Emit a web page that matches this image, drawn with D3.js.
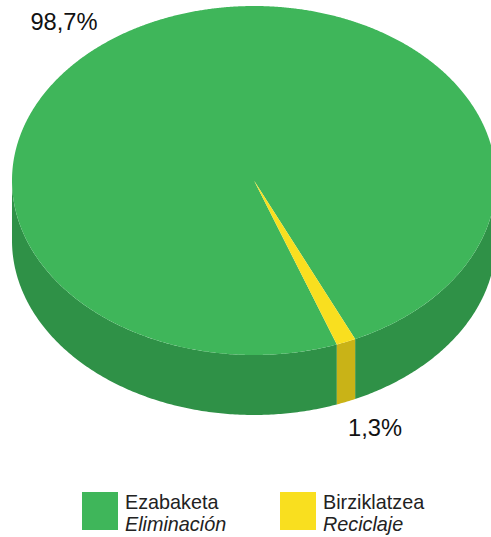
<!DOCTYPE html>
<html><head><meta charset="utf-8">
<style>html,body{margin:0;padding:0;background:#fff}svg{display:block}text{font-family:"Liberation Sans",Arial,sans-serif}</style>
<script src="https://cdn.jsdelivr.net/npm/d3@7"></script></head>
<body><svg id="c" width="491" height="537"></svg>
<script>
const categories = ["Ezabaketa","Birziklatzea"];
const subLabels = ["Eliminación","Reciclaje"];
const values = [98.7,1.3];
const valueLabels = ["98,7%","1,3%"];
const topColors = ["#3FB65A","#F9DF1F"];
const sideColors = ["#2F9147","#C9B317"];
const cx=254,cy=180.5,rx=242,ry=174.5,depth=60;
const svg=d3.select("#c");
const yellowStart=155.3*Math.PI/180;
const greenStart=yellowStart+values[1]/100*2*Math.PI;
const arcs=d3.pie().sort(null).startAngle(greenStart).endAngle(greenStart+2*Math.PI)(values);
const X=d3.scaleLinear().domain([-1,1]).range([cx-rx,cx+rx]);
const Y=d3.scaleLinear().domain([-1,1]).range([cy-ry,cy+ry]);
const px=a=>X(Math.sin(a)), py=a=>Y(-Math.cos(a));
const line=d3.line();
function wall(p,q,color){
  const s=Math.max(p,Math.PI/2), e=Math.min(q,3*Math.PI/2);
  if(e<=s) return;
  const n=Math.ceil((e-s)*100);
  const angs=d3.range(n+1).map(k=>s+(e-s)*k/n);
  const up=angs.map(t=>[px(t),py(t)]);
  const down=angs.slice().reverse().map(t=>[px(t),py(t)+depth]);
  svg.append("path").attr("d",line(up.concat(down))+"Z").attr("fill",color);
}
arcs.forEach(a=>{
  wall(a.startAngle,a.endAngle,sideColors[a.index]);
  wall(a.startAngle-2*Math.PI,a.endAngle-2*Math.PI,sideColors[a.index]);
});
arcs.forEach(a=>{
  const n=Math.max(10,Math.ceil((a.endAngle-a.startAngle)*200));
  const pts=[[X(0),Y(0)]].concat(d3.range(n+1).map(k=>{const t=a.startAngle+(a.endAngle-a.startAngle)*k/n;return [px(t),py(t)];}));
  svg.append("path").attr("d",line(pts)+"Z").attr("fill",topColors[a.index]);
});
const labelPos=[[64,30],[375,436]];
valueLabels.forEach((t,i)=>svg.append("text").attr("x",labelPos[i][0]).attr("y",labelPos[i][1]).attr("text-anchor","middle").attr("font-size",23.7).attr("fill","#111").text(t));
const legendX=[82,280];
categories.forEach((c,i)=>{
  svg.append("rect").attr("x",legendX[i]).attr("y",492).attr("width",36).attr("height",38).attr("fill",topColors[i]);
  svg.append("text").attr("x",legendX[i]+43).attr("y",509).attr("font-size",19.8).attr("fill","#222").text(c);
  svg.append("text").attr("x",legendX[i]+43).attr("y",531).attr("font-size",19.8).attr("font-style","italic").attr("fill","#222").text(subLabels[i]);
});
</script></body></html>
